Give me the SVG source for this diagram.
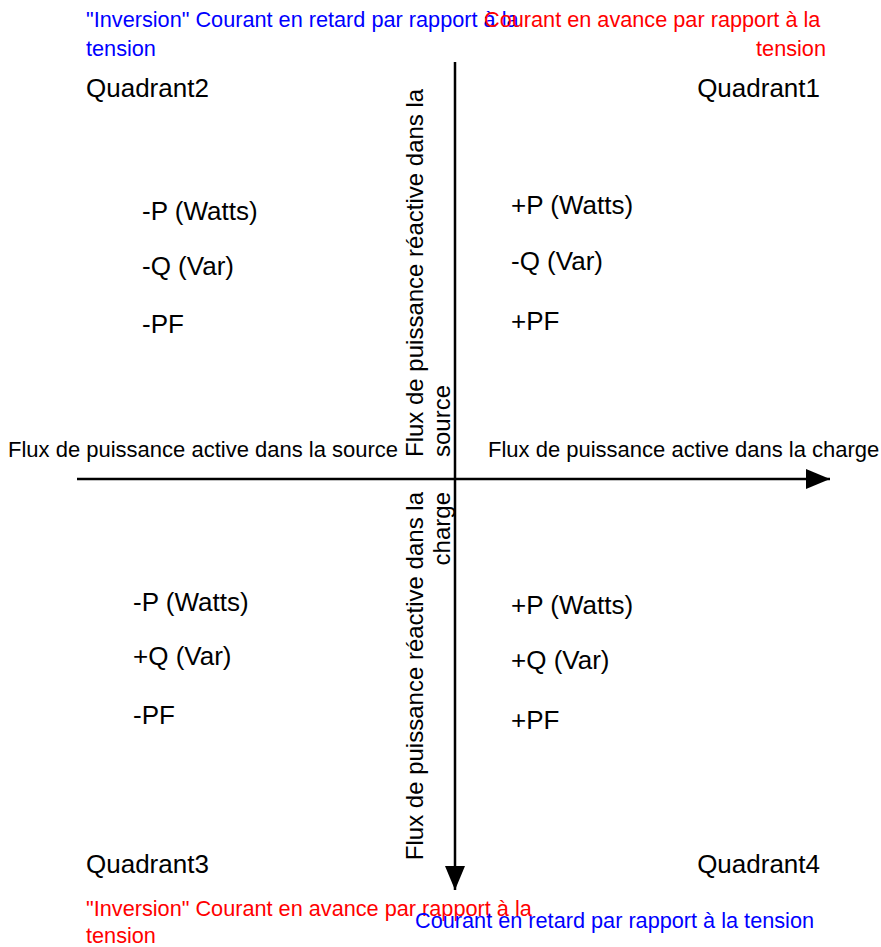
<svg xmlns="http://www.w3.org/2000/svg" width="881" height="947" viewBox="0 0 881 947">
<style>
text{font-family:"Liberation Sans",Arial,sans-serif;fill:#000}
.q{font-size:26px}
.ax{font-size:22px}
.v{font-size:24px}
.n{font-size:21.7px}
.blue{fill:#0000ff}
.red{fill:#ff0000}
.axis{stroke:#000;stroke-width:2.5;fill:none}
</style>
<defs>
<marker id="arr" markerUnits="userSpaceOnUse" markerWidth="26" markerHeight="20" refX="24" refY="10" orient="auto">
<path d="M0,0 L24,10 L0,20 Z" fill="#000"/>
</marker>
</defs>
<rect width="881" height="947" fill="#fff"/>
<g id="connectors">
<line class="axis" x1="77" y1="479" x2="830" y2="479" marker-end="url(#arr)"/>
<line class="axis" x1="455" y1="62" x2="455" y2="890" marker-end="url(#arr)"/>
</g>
<g id="note-top-left">
<text class="n blue" x="86" y="27">"Inversion" Courant en retard par rapport à la</text>
<text class="n blue" x="86" y="56">tension</text>
</g>
<g id="note-top-right">
<text class="n red" x="484" y="27">Courant en avance par rapport à la</text>
<text class="n red" x="826" y="56" text-anchor="end">tension</text>
</g>
<g id="quadrant2">
<text class="q" x="86" y="97">Quadrant2</text>
<text class="q" x="142" y="220">-P (Watts)</text>
<text class="q" x="142" y="275">-Q (Var)</text>
<text class="q" x="142" y="333">-PF</text>
</g>
<g id="quadrant1">
<text class="q" x="820" y="97" text-anchor="end">Quadrant1</text>
<text class="q" x="511" y="214">+P (Watts)</text>
<text class="q" x="511" y="270">-Q (Var)</text>
<text class="q" x="511" y="330">+PF</text>
</g>
<g id="axis-labels">
<text class="ax" x="8" y="457">Flux de puissance active dans la source</text>
<text class="ax" x="488" y="457">Flux de puissance active dans la charge</text>
<text class="v" transform="translate(423,457) rotate(-90)">Flux de puissance réactive dans la</text>
<text class="v" transform="translate(450,457) rotate(-90)">source</text>
<text class="v" text-anchor="end" transform="translate(423,492) rotate(-90)">Flux de puissance réactive dans la</text>
<text class="v" text-anchor="end" transform="translate(450,492) rotate(-90)">charge</text>
</g>
<g id="quadrant3">
<text class="q" x="133" y="611">-P (Watts)</text>
<text class="q" x="133" y="665">+Q (Var)</text>
<text class="q" x="133" y="724">-PF</text>
<text class="q" x="86" y="873">Quadrant3</text>
</g>
<g id="quadrant4">
<text class="q" x="511" y="614">+P (Watts)</text>
<text class="q" x="511" y="669">+Q (Var)</text>
<text class="q" x="511" y="729">+PF</text>
<text class="q" x="820" y="873" text-anchor="end">Quadrant4</text>
</g>
<g id="note-bottom-left">
<text class="n red" x="86" y="916">"Inversion" Courant en avance par rapport à la</text>
<text class="n red" x="86" y="943">tension</text>
</g>
<g id="note-bottom-right">
<text class="n blue" x="415" y="928">Courant en retard par rapport à la tension</text>
</g>
</svg>
